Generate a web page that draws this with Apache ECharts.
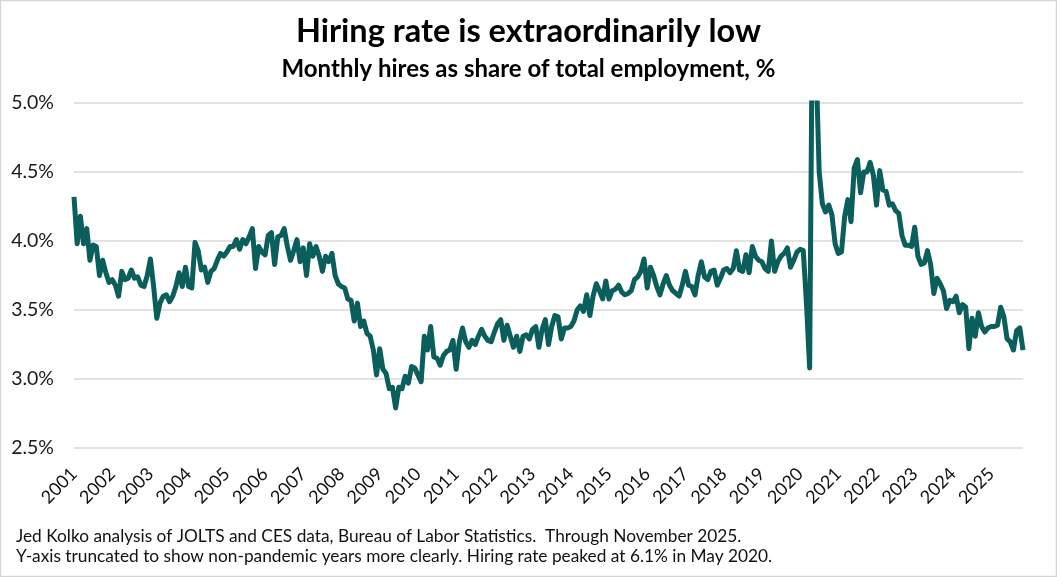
<!DOCTYPE html>
<html>
<head>
<meta charset="utf-8">
<script src="https://cdn.jsdelivr.net/npm/echarts@6/dist/echarts.min.js"></script>
<style>
  html, body { margin: 0; padding: 0; background: #fff; }
  #main { width: 1057px; height: 577px; }
</style>
</head>
<body>
<div id="main"></div>
<script>
// monthly hires rate, Jan 2001 .. Nov 2025
const startYear = 2001
const hiresRate = [
  4.32, 3.98, 4.18, 3.98, 4.09, 3.86, 3.97, 3.96, 3.75, 3.86, 3.77, 3.70, // 2001
  3.72, 3.68, 3.60, 3.78, 3.72, 3.73, 3.79, 3.73, 3.74, 3.68, 3.67, 3.75, // 2002
  3.87, 3.67, 3.44, 3.55, 3.60, 3.61, 3.56, 3.60, 3.67, 3.77, 3.67, 3.81, // 2003
  3.67, 3.66, 3.99, 3.93, 3.79, 3.81, 3.70, 3.78, 3.80, 3.86, 3.91, 3.89, // 2004
  3.92, 3.96, 3.96, 4.01, 3.94, 4.01, 3.98, 4.03, 4.09, 3.80, 3.96, 3.92, // 2005
  3.90, 4.04, 4.06, 3.83, 4.03, 4.04, 4.09, 3.96, 3.86, 3.93, 4.01, 3.85, // 2006
  3.95, 3.75, 3.98, 3.89, 3.96, 3.89, 3.78, 3.89, 3.85, 3.91, 3.75, 3.69, // 2007
  3.67, 3.66, 3.58, 3.57, 3.42, 3.55, 3.38, 3.42, 3.33, 3.31, 3.21, 3.03, // 2008
  3.22, 3.07, 3.04, 2.93, 2.94, 2.79, 2.94, 2.93, 3.02, 2.97, 3.09, 3.08, // 2009
  3.03, 2.98, 3.31, 3.21, 3.38, 3.16, 3.15, 3.10, 3.17, 3.20, 3.21, 3.28, // 2010
  3.07, 3.27, 3.37, 3.27, 3.23, 3.28, 3.25, 3.31, 3.36, 3.31, 3.28, 3.27, // 2011
  3.34, 3.40, 3.43, 3.28, 3.39, 3.31, 3.23, 3.31, 3.20, 3.31, 3.32, 3.29, // 2012
  3.36, 3.38, 3.23, 3.36, 3.43, 3.25, 3.38, 3.46, 3.45, 3.29, 3.37, 3.37, // 2013
  3.38, 3.42, 3.50, 3.53, 3.49, 3.61, 3.46, 3.60, 3.69, 3.64, 3.58, 3.71, // 2014
  3.58, 3.64, 3.65, 3.68, 3.63, 3.61, 3.62, 3.64, 3.72, 3.74, 3.78, 3.87, // 2015
  3.66, 3.81, 3.75, 3.67, 3.61, 3.69, 3.75, 3.68, 3.64, 3.62, 3.60, 3.68, // 2016
  3.78, 3.68, 3.67, 3.61, 3.75, 3.85, 3.74, 3.72, 3.78, 3.79, 3.68, 3.73, // 2017
  3.79, 3.80, 3.77, 3.80, 3.93, 3.79, 3.78, 3.90, 3.77, 3.96, 3.89, 3.86, // 2018
  3.85, 3.80, 3.78, 4.00, 3.78, 3.85, 3.89, 3.91, 3.95, 3.81, 3.86, 3.92, // 2019
  3.94, 3.93, 3.55, 3.08, 6.10, 5.30, 4.50, 4.27, 4.21, 4.26, 4.19, 3.98, // 2020
  3.91, 3.92, 4.18, 4.30, 4.14, 4.53, 4.59, 4.35, 4.50, 4.50, 4.57, 4.48, // 2021
  4.26, 4.51, 4.37, 4.36, 4.26, 4.27, 4.22, 4.20, 4.04, 3.97, 3.97, 3.96, // 2022
  4.10, 3.89, 3.83, 3.84, 3.93, 3.83, 3.62, 3.73, 3.69, 3.64, 3.51, 3.57, // 2023
  3.56, 3.60, 3.48, 3.54, 3.52, 3.22, 3.44, 3.31, 3.48, 3.38, 3.34, 3.37, // 2024
  3.38, 3.38, 3.39, 3.52, 3.45, 3.29, 3.27, 3.21, 3.35, 3.37, 3.21        // 2025
]
// y axis is cut at 5% on purpose
const yMin = 2.5
const yMax = 5.0
const yStep = 0.5

const titleText = 'Hiring rate is extraordinarily low'
const subtitleText = 'Monthly hires as share of total employment, %'
const noteLines = [
  'Jed Kolko analysis of JOLTS and CES data, Bureau of Labor Statistics.  Through November 2025.',
  'Y-axis truncated to show non-pandemic years more clearly. Hiring rate peaked at 6.1% in May 2020.'
]

//x轴的月份
const months = []
hiresRate.forEach((v, i) => {
  const y = startYear + Math.floor(i / 12)
  const m = (i % 12) + 1
  months.push(y + '-' + (m < 10 ? '0' + m : m))
})

const font = 'Lato, "Noto Sans", sans-serif'
const chart = echarts.init(document.getElementById('main'))
chart.setOption({
  animation: false,
  textStyle: { fontFamily: font },
  title: [
    {
      text: titleText, left: 'center', top: 10,
      textStyle: { fontSize: 32.5, fontWeight: 'bold', color: '#000', fontFamily: font }
    },
    {
      text: subtitleText, left: 'center', top: 52,
      textStyle: { fontSize: 24, fontWeight: 'bold', color: '#000', fontFamily: font }
    },
    {
      text: noteLines.join('\n'), left: 11, top: 521,
      textStyle: { fontSize: 17.3, fontWeight: 'normal', color: '#111', lineHeight: 20, fontFamily: font }
    }
  ],
  graphic: [{
    type: 'rect',
    shape: { x: 0.5, y: 0.5, width: 1056, height: 576 },
    style: { fill: 'none', stroke: '#d6d6d6', lineWidth: 1.5 },
    silent: true
  }],
  grid: { left: 74, right: 34, top: 103, bottom: 129, containLabel: false },
  xAxis: {
    type: 'category',
    data: months,
    boundaryGap: false,
    axisLine: { show: false },
    axisTick: { show: false },
    axisLabel: {
      interval: (index) => index % 12 === 0,
      formatter: (v) => v.slice(0, 4),
      rotate: 45,
      margin: 23,
      fontSize: 18,
      color: '#111'
    }
  },
  yAxis: {
    type: 'value',
    min: yMin,
    max: yMax,
    interval: yStep,
    axisLine: { show: false },
    axisTick: { show: false },
    axisLabel: {
      formatter: (v) => v.toFixed(1) + '%',
      fontSize: 19.5,
      color: '#1a1a1a',
      margin: 20
    },
    splitLine: { lineStyle: { color: '#d9d9d9', width: 1.5 } }
  },
  series: [{
    type: 'line',
    data: hiresRate,
    showSymbol: false,
    clip: true,
    lineStyle: { color: '#0a5e5b', width: 5, join: 'round' }
  }]
})
</script>
</body>
</html>
